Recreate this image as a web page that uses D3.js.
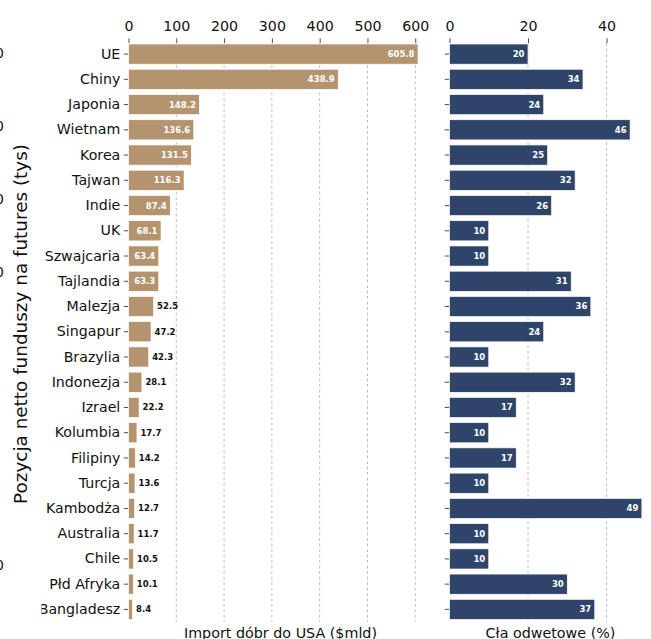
<!DOCTYPE html>
<html>
<head>
  <meta charset="utf-8">
  <script src="https://cdnjs.cloudflare.com/ajax/libs/d3/7.8.5/d3.min.js"></script>
  <style>
    body { margin: 0; background: #fff; }
    svg { display: block; font-family: "DejaVu Sans", sans-serif; overflow: hidden; }
  </style>
</head>
<body>
<div id="chart"></div>
<script>
// ---- data ----
var countries = ["UE", "Chiny", "Japonia", "Wietnam", "Korea", "Tajwan", "Indie", "UK",
    "Szwajcaria", "Tajlandia", "Malezja", "Singapur", "Brazylia", "Indonezja", "Izrael",
    "Kolumbia", "Filipiny", "Turcja", "Kambodża", "Australia", "Chile", "Płd Afryka", "Bangladesz"];
var imports = [605.8, 438.9, 148.2, 136.6, 131.5, 116.3, 87.4, 68.1, 63.4, 63.3, 52.5, 47.2,
    42.3, 28.1, 22.2, 17.7, 14.2, 13.6, 12.7, 11.7, 10.5, 10.1, 8.4];
var tariffs = [20, 34, 24, 46, 25, 32, 26, 10, 10, 31, 36, 24, 10, 32, 17, 10, 17, 10, 49, 10, 10, 30, 37];
var importTicks = [0, 100, 200, 300, 400, 500, 600];
var tariffTicks = [0, 20, 40];
// leftover axis from a neighbouring panel, only its last digits show
var ghostTicks = [0, 1, 2, 3, 7];

var width = 651, height = 639;
var top_ = 43, bottom = 622;
var FONT = '"DejaVu Sans", sans-serif';

var svg = d3.select('#chart').append('svg')
    .attr('width', width)
    .attr('height', height);

var y = d3.scaleBand()
    .domain(countries)
    .range([44, 619.5])
    .paddingInner(0.2)
    .paddingOuter(0);

//----------------------------------------
// panel helper
function styleAxis(sel) {
    sel.attr('font-family', FONT).attr('font-size', null);
    sel.select('.domain').remove();
    sel.selectAll('.tick line').style('stroke', '#222').style('stroke-width', 0.8);
    sel.selectAll('.tick text')
        .style('font-size', '14.2px')
        .style('font-family', FONT)
        .style('fill', '#111');
}

function panel(opts) {
    var x = d3.scaleLinear()
        .domain([0, d3.max(opts.values) * 1.05])
        .range([opts.x0, opts.x0 + opts.w]);

    var g = svg.append('g');

    // grid
    g.selectAll('line.grid')
        .data(opts.ticks.slice(1))
        .enter().append('line')
        .attr('x1', function(d) { return x(d); })
        .attr('x2', function(d) { return x(d); })
        .attr('y1', top_)
        .attr('y2', bottom)
        .style('stroke', '#b0b0b0')
        .style('stroke-width', 0.8)
        .style('stroke-dasharray', '3,2.5');

    // top axis
    g.append('g')
        .attr('transform', 'translate(0,' + top_ + ')')
        .call(d3.axisTop(x).tickValues(opts.ticks).tickSize(4.7).tickPadding(7))
        .call(styleAxis);

    // y axis ticks (labels only on the left panel)
    g.append('g')
        .attr('transform', 'translate(' + opts.x0 + ',0)')
        .call(d3.axisLeft(y).tickSize(4.7).tickPadding(3.5)
            .tickFormat(opts.labels ? null : ''))
        .call(styleAxis);

    // bars
    g.selectAll('rect.bar')
        .data(opts.values)
        .enter().append('rect')
        .attr('x', x(0))
        .attr('y', function(d, i) { return y(countries[i]); })
        .attr('width', function(d) { return x(d) - x(0); })
        .attr('height', y.bandwidth())
        .style('fill', opts.color)
        .style('stroke', '#fff')
        .style('stroke-width', 0.7);

    // value labels: inside (white) for long bars, outside (black) for short ones
    var cut = d3.max(opts.values) * 0.1;
    g.selectAll('text.val')
        .data(opts.values)
        .enter().append('text')
        .attr('x', function(d) { return d > cut ? x(d) - 3.5 : x(d) + 3.5; })
        .attr('y', function(d, i) { return y(countries[i]) + y.bandwidth() / 2; })
        .attr('dy', '0.35em')
        .attr('text-anchor', function(d) { return d > cut ? 'end' : 'start'; })
        .style('font-size', '8.5px')
        .style('font-weight', 'bold')
        .style('fill', function(d) { return d > cut ? '#fff' : '#111'; })
        .text(function(d) { return opts.fmt(d); });

    // bottom label
    g.append('text')
        .attr('x', opts.x0 + opts.w / 2)
        .attr('y', 638)
        .attr('text-anchor', 'middle')
        .style('font-size', '14.3px')
        .style('fill', '#111')
        .text(opts.title);
}

panel({
    values: imports, ticks: importTicks, x0: 128.5, w: 304,
    color: '#b4946f', labels: true,
    fmt: function(d) { return d.toFixed(1); },
    title: 'Import dóbr do USA ($mld)'
});

panel({
    values: tariffs, ticks: tariffTicks, x0: 449.5, w: 202,
    color: '#2e4469', labels: false,
    fmt: function(d) { return d; },
    title: 'Cła odwetowe (%)'
});

//----------------------------------------
// neighbouring panel, mostly outside the picture: its white area
// hides the start of the longest country label
svg.append('rect')
    .attr('x', 0).attr('y', 0)
    .attr('width', 41.5).attr('height', height)
    .style('fill', '#fff');

var yGhost = d3.scaleLinear().domain([0, 7]).range([53, 565]);
svg.selectAll('text.ghost')
    .data(ghostTicks)
    .enter().append('text')
    .attr('class', 'ghost')
    .attr('x', 4)
    .attr('y', function(d) { return yGhost(d); })
    .attr('dy', '0.35em')
    .attr('text-anchor', 'end')
    .style('font-size', '14px')
    .style('fill', '#111')
    .text('0');

svg.append('text')
    .attr('transform', 'translate(27,324) rotate(-90)')
    .attr('text-anchor', 'middle')
    .style('font-size', '18.4px')
    .style('fill', '#111')
    .text('Pozycja netto funduszy na futures (tys)');
</script>
</body>
</html>
